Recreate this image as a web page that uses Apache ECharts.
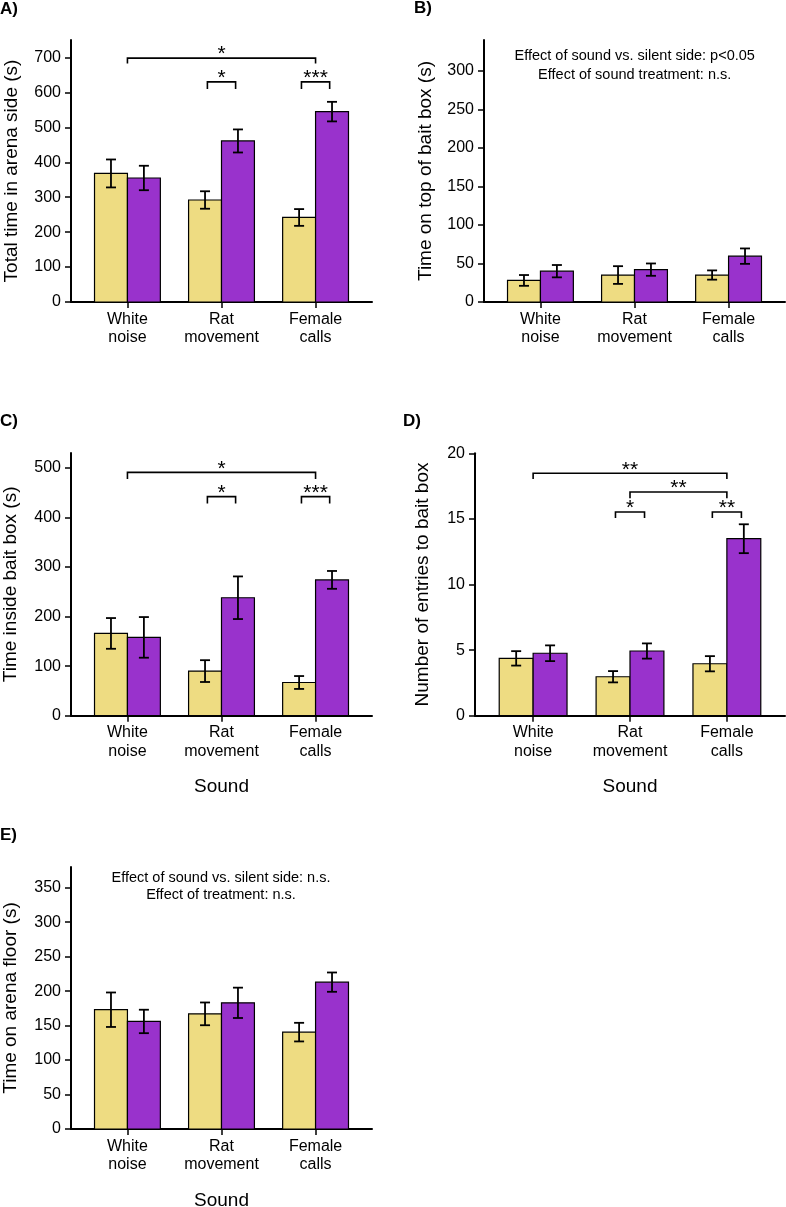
<!DOCTYPE html>
<html>
<head>
<meta charset="utf-8">
<script src="https://cdn.jsdelivr.net/npm/echarts@6/dist/echarts.min.js"></script>
<style>
html,body{margin:0;padding:0;background:#fff;}
#chart{width:786px;height:1207px;}
</style>
</head>
<body>
<div id="chart"></div>
<script>
// ---------- data ----------
const categories = ['White\nnoise', 'Rat\nmovement', 'Female\ncalls'];
const catPos = [1, 2, 3];

// Panel A: Total time in arena side (s)
const A_silent = [368, 292, 242];
const A_silentErr = [40, 25, 24];
const A_sound = [355, 461, 545];
const A_soundErr = [35, 33, 28];
const A_ticks = [0, 100, 200, 300, 400, 500, 600, 700];
// [x1, x2, yTop, yLeg, label]
const A_brackets = [[1, 3, 698, 683, '*'], [1.85, 2.15, 630, 610, '*'], [2.85, 3.15, 630, 610, '***']];

// Panel B: Time on top of bait box (s)
const B_silent = [28, 35, 35];
const B_silentErr = [7, 11.5, 6];
const B_sound = [40, 42, 59.5];
const B_soundErr = [8, 8, 10];
const B_ticks = [0, 50, 100, 150, 200, 250, 300];
const B_brackets = [];

// Panel C: Time inside bait box (s)
const C_silent = [166, 90, 67];
const C_silentErr = [31, 22, 13];
const C_sound = [158, 238, 274];
const C_soundErr = [41, 43, 18];
const C_ticks = [0, 100, 200, 300, 400, 500];
const C_brackets = [[1, 3, 491, 477.5, '*'], [1.85, 2.15, 442, 428, '*'], [2.85, 3.15, 442, 428, '***']];

// Panel D: Number of entries to bait box
const D_silent = [4.37, 2.97, 3.96];
const D_silentErr = [0.55, 0.43, 0.58];
const D_sound = [4.76, 4.93, 13.49];
const D_soundErr = [0.6, 0.58, 1.1];
const D_ticks = [0, 5, 10, 15, 20];
const D_brackets = [[1, 3, 18.48, 18.04, '**'], [2, 3, 17.05, 16.57, '**'], [1.85, 2.15, 15.53, 15.07, '*'], [2.85, 3.15, 15.53, 15.07, '**']];

// Panel E: Time on arena floor (s)
const E_silent = [173, 167, 140.5];
const E_silentErr = [25, 16.5, 13.5];
const E_sound = [156, 183, 213];
const E_soundErr = [17, 22, 14];
const E_ticks = [0, 50, 100, 150, 200, 250, 300, 350];
const E_brackets = [];

// ---------- layout / style ----------
const FONT = 'Arial, "Liberation Sans", sans-serif';
const YELLOW = '#EEDC82';
const PURPLE = '#9932CC';
const HALF = 0.35; // bar width in category units

const panels = [
  {grid: {left: 71, top: 40, width: 301, height: 262}, yMax: 750, ticks: A_ticks, title: 'Total time in arena side (s)', gap: 50,
   silent: A_silent, silentErr: A_silentErr, sound: A_sound, soundErr: A_soundErr, brackets: A_brackets, xName: ''},
  {grid: {left: 484, top: 40, width: 301, height: 262}, yMax: 340, ticks: B_ticks, title: 'Time on top of bait box (s)', gap: 49,
   silent: B_silent, silentErr: B_silentErr, sound: B_sound, soundErr: B_soundErr, brackets: B_brackets, xName: ''},
  {grid: {left: 71, top: 453, width: 301, height: 262.7}, yMax: 530, ticks: C_ticks, title: 'Time inside bait box (s)', gap: 51,
   silent: C_silent, silentErr: C_silentErr, sound: C_sound, soundErr: C_soundErr, brackets: C_brackets, xName: 'Sound'},
  {grid: {left: 475, top: 453.3, width: 310, height: 262.4}, yMax: 20, ticks: D_ticks, title: 'Number of entries to bait box', gap: 43,
   silent: D_silent, silentErr: D_silentErr, sound: D_sound, soundErr: D_soundErr, brackets: D_brackets, xName: 'Sound'},
  {grid: {left: 71, top: 867, width: 301, height: 262}, yMax: 380, ticks: E_ticks, title: 'Time on arena floor (s)', gap: 51,
   silent: E_silent, silentErr: E_silentErr, sound: E_sound, soundErr: E_soundErr, brackets: E_brackets, xName: 'Sound'}
];

function barRenderer(off0, off1, color) {
  return function (params, api) {
    const x = api.value(0), v = api.value(1), e = api.value(2);
    const p0 = api.coord([x + off0, 0]);
    const p1 = api.coord([x + off1, v]);
    const cx = api.coord([x + (off0 + off1) / 2, v])[0];
    const yHi = api.coord([x, v + e])[1];
    const yLo = api.coord([x, v - e])[1];
    const cap = 5;
    const lineStyle = {stroke: '#000', lineWidth: 1.8};
    return {
      type: 'group',
      children: [
        {type: 'rect', shape: {x: p0[0], y: p1[1], width: p1[0] - p0[0], height: p0[1] - p1[1]},
         style: {fill: color, stroke: '#000', lineWidth: 1.2}},
        {type: 'line', shape: {x1: cx, y1: yHi, x2: cx, y2: yLo}, style: lineStyle},
        {type: 'line', shape: {x1: cx - cap, y1: yHi, x2: cx + cap, y2: yHi}, style: lineStyle},
        {type: 'line', shape: {x1: cx - cap, y1: yLo, x2: cx + cap, y2: yLo}, style: lineStyle}
      ]
    };
  };
}

function bracketRenderer(params, api) {
  const x1 = api.value(0), x2 = api.value(1), yT = api.value(2), yL = api.value(3);
  const label = brLabels[params.seriesIndex][params.dataIndex];
  const a = api.coord([x1, yL]), b = api.coord([x1, yT]), c = api.coord([x2, yT]), d = api.coord([x2, yL]);
  return {
    type: 'group',
    children: [
      {type: 'polyline', shape: {points: [a, b, c, d]}, style: {stroke: '#000', lineWidth: 1.6, fill: null}},
      {type: 'text', style: {text: label, x: (b[0] + c[0]) / 2, y: b[1] + 7, align: 'center', verticalAlign: 'bottom',
        font: '21px ' + FONT, fill: '#000'}}
    ]
  };
}

const grids = [], xAxes = [], yAxes = [], series = [];
const brLabels = {};

panels.forEach((p, i) => {
  grids.push(Object.assign({containLabel: false, outerBoundsMode: 'none'}, p.grid));
  xAxes.push({
    gridIndex: i, type: 'value', min: 0.4, max: 3.6,
    name: p.xName, nameLocation: 'middle', nameGap: 62,
    nameTextStyle: {fontSize: 19, color: '#000', fontFamily: FONT},
    axisLine: {show: true, onZero: false, lineStyle: {color: '#000', width: 2}},
    axisTick: {show: true, customValues: catPos, length: 6, lineStyle: {color: '#000', width: 1.5}},
    axisLabel: {show: true, customValues: catPos, formatter: v => categories[Math.round(v) - 1],
      color: '#000', fontSize: 16, lineHeight: 18.3, margin: 8, fontFamily: FONT},
    splitLine: {show: false}
  });
  yAxes.push({
    gridIndex: i, type: 'value', min: 0, max: p.yMax,
    name: p.title, nameLocation: 'middle', nameGap: p.gap, nameRotate: 90,
    nameTextStyle: {fontSize: 19, color: '#000', fontFamily: FONT},
    axisLine: {show: true, lineStyle: {color: '#000', width: 2}},
    axisTick: {show: true, customValues: p.ticks, length: 6, lineStyle: {color: '#000', width: 1.5}},
    axisLabel: {show: true, customValues: p.ticks, color: '#000', fontSize: 16, margin: 10, fontFamily: FONT},
    splitLine: {show: false}
  });
  series.push({
    type: 'custom', name: 'Silent side', xAxisIndex: i, yAxisIndex: i,
    renderItem: barRenderer(-HALF, 0, YELLOW),
    data: catPos.map((c, k) => [c, p.silent[k], p.silentErr[k]]), clip: false, silent: true
  });
  series.push({
    type: 'custom', name: 'Sound side', xAxisIndex: i, yAxisIndex: i,
    renderItem: barRenderer(0, HALF, PURPLE),
    data: catPos.map((c, k) => [c, p.sound[k], p.soundErr[k]]), clip: false, silent: true
  });
  if (p.brackets.length) {
    brLabels[series.length] = p.brackets.map(b => b[4]);
    series.push({
      type: 'custom', name: 'Significance', xAxisIndex: i, yAxisIndex: i,
      renderItem: bracketRenderer,
      data: p.brackets.map(b => [b[0], b[1], b[2], b[3]]), clip: false, silent: true
    });
  }
});

const letterFont = 'bold 17px ' + FONT;
const annFont = '14.5px ' + FONT;
const graphic = [
  {type: 'text', style: {text: 'A)', x: 0, y: 9.5, verticalAlign: 'middle', font: letterFont, fill: '#000'}},
  {type: 'text', style: {text: 'B)', x: 414, y: 8.5, verticalAlign: 'middle', font: letterFont, fill: '#000'}},
  {type: 'text', style: {text: 'C)', x: 0, y: 421.5, verticalAlign: 'middle', font: letterFont, fill: '#000'}},
  {type: 'text', style: {text: 'D)', x: 403, y: 421.5, verticalAlign: 'middle', font: letterFont, fill: '#000'}},
  {type: 'text', style: {text: 'E)', x: 0, y: 835, verticalAlign: 'middle', font: letterFont, fill: '#000'}},
  {type: 'text', style: {text: 'Effect of sound vs. silent side: p<0.05', x: 634.7, y: 56, align: 'center', verticalAlign: 'middle', font: annFont, fill: '#000'}},
  {type: 'text', style: {text: 'Effect of sound treatment: n.s.', x: 634.7, y: 75.3, align: 'center', verticalAlign: 'middle', font: annFont, fill: '#000'}},
  {type: 'text', style: {text: 'Effect of sound vs. silent side: n.s.', x: 221, y: 878.3, align: 'center', verticalAlign: 'middle', font: annFont, fill: '#000'}},
  {type: 'text', style: {text: 'Effect of treatment: n.s.', x: 221, y: 895.3, align: 'center', verticalAlign: 'middle', font: annFont, fill: '#000'}}
];

const chart = echarts.init(document.getElementById('chart'), null, {renderer: 'canvas'});
chart.setOption({
  animation: false,
  backgroundColor: '#fff',
  textStyle: {fontFamily: FONT},
  grid: grids,
  xAxis: xAxes,
  yAxis: yAxes,
  series: series,
  graphic: graphic
});
</script>
</body>
</html>
